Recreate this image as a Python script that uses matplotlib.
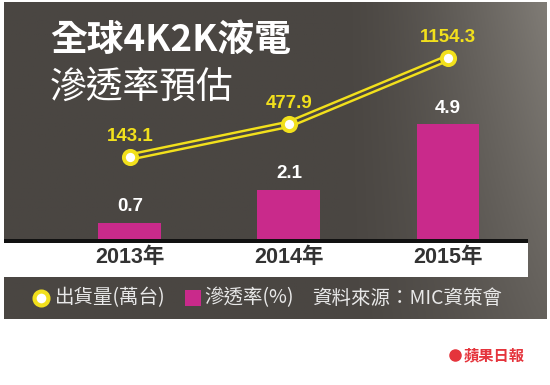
import numpy as np
import matplotlib
matplotlib.use("Agg")
import matplotlib.pyplot as plt
from matplotlib.patches import Rectangle
from matplotlib.lines import Line2D

# data
years = ["2013年", "2014年", "2015年"]
shipments = [143.1, 477.9, 1154.3]      # 出貨量(萬台)
penetration = [0.7, 2.1, 4.9]           # 滲透率(%)

title = "全球4K2K液電"
subtitle = "滲透率預估"
legend_ship = "出貨量(萬台)"
legend_pen = "滲透率(%)"
source = "資料來源：MIC資策會"

BG = "#4a4642"
MAGENTA = "#c92a8b"
YELLOW = "#f2e01c"
CJK = ["Noto Sans CJK TC", "DejaVu Sans"]
NUM = ["Liberation Sans", "Noto Sans CJK TC", "DejaVu Sans"]

W, H = 550, 385
fig = plt.figure(figsize=(W / 100, H / 100), dpi=100)
fig.patch.set_facecolor("white")


def fx(px):
    return px / W


def fy(py):
    return 1 - py / H


# dark panel with a light sheen on the right
bg = fig.add_axes([fx(4), fy(319), (547 - 4) / W, (319 - 2) / H])
bg.set_zorder(-2)
gx = np.linspace(0, 1, 300)
gy = np.linspace(0, 1, 200)
X, Y = np.meshgrid(gx, gy)
t = np.clip((X - 0.62) / 0.38, 0, 1) ** 1.4 * (0.5 + 0.5 * (1 - Y))
dark = np.array([74, 70, 66]) / 255
light = np.array([128, 124, 118]) / 255
img = dark[None, None, :] * (1 - t[..., None]) + light[None, None, :] * t[..., None]
bg.imshow(img, aspect="auto", extent=[0, 1, 0, 1], origin="upper")
bg.axis("off")

# white band for year labels and black baseline
fig.add_artist(Rectangle((fx(4), fy(277)), (528 - 4) / W, (277 - 243) / H,
                         transform=fig.transFigure, color="white", lw=0,
                         zorder=-1))
fig.add_artist(Rectangle((fx(4), fy(243)), (528 - 4) / W, 4 / H,
                         transform=fig.transFigure, color="#111111", lw=0,
                         zorder=-1))

# main chart
ax = fig.add_axes([fx(4), fy(239), 524 / W, (239 - 5) / H])
ax.patch.set_alpha(0)
ax.axis("off")
x = np.arange(len(years))
ax.set_xlim(-0.792, 2.503)
ax.set_ylim(0, 10.0)
ax.bar(x, penetration, width=0.396, color=MAGENTA, zorder=2)
for xi, v in zip(x, penetration):
    ax.annotate(f"{v}", (xi, v), xytext=(0, 11.5), textcoords="offset points",
                ha="center", va="center", color="white", fontsize=13.5,
                fontweight="bold", family=NUM)
for xi, lab in zip(x, years):
    ax.text(xi, -0.081, lab, transform=ax.get_xaxis_transform(), ha="center",
            va="center", color="#333333", fontsize=15.5, fontweight="bold",
            family=NUM, clip_on=False)

ax2 = ax.twinx()
ax2.axis("off")
ax2.set_ylim(-695, 1696)
ax2.plot(x, shipments, color=YELLOW, lw=5.5, solid_capstyle="butt", zorder=3)
ax2.plot(x, shipments, color=BG, lw=2, solid_capstyle="butt", zorder=4)
ax2.plot(x, shipments, ls="none", marker="o", ms=9.5, mfc="white",
         mec=YELLOW, mew=2.8, zorder=5)
for xi, v in zip(x, shipments):
    ax2.annotate(f"{v}", (xi, v), xytext=(0, 15), textcoords="offset points",
                 ha="center", va="center", color=YELLOW, fontsize=13.5,
                 fontweight="bold", family=NUM)

# titles
fig.text(fx(50), fy(40), title, color="white", fontsize=26.5, fontweight="black",
         family=CJK, ha="left", va="center")
fig.text(fx(50), fy(87), subtitle, color="white", fontsize=26.5, fontweight="light",
         family=CJK, ha="left", va="center")

# legend row
ly = fy(298)
fig.add_artist(Line2D([fx(41)], [ly], marker="o", ms=10, mfc="white", mec=YELLOW,
                      mew=3, transform=fig.transFigure))
fig.text(fx(55), ly, legend_ship, color="#e8e8e8", fontsize=14, family=CJK,
         ha="left", va="center")
fig.add_artist(Line2D([fx(193)], [ly], marker="s", ms=11, mfc=MAGENTA, mec=MAGENTA,
                      mew=0, transform=fig.transFigure))
fig.text(fx(204), ly, legend_pen, color="#e8e8e8", fontsize=14, family=CJK,
         ha="left", va="center")
fig.text(fx(312), ly, source, color="#e8e8e8", fontsize=14, family=CJK,
         ha="left", va="center")

# newspaper mark
fig.add_artist(Line2D([fx(455)], [fy(355)], marker="o", ms=8, mfc="#e5343c",
                      mec="#e5343c", transform=fig.transFigure))
fig.text(fx(464), fy(355), "蘋果日報", color="#e5343c", fontsize=11,
         fontweight="bold", family=CJK, ha="left", va="center")

fig.savefig("out.png", dpi=100, facecolor="white")
